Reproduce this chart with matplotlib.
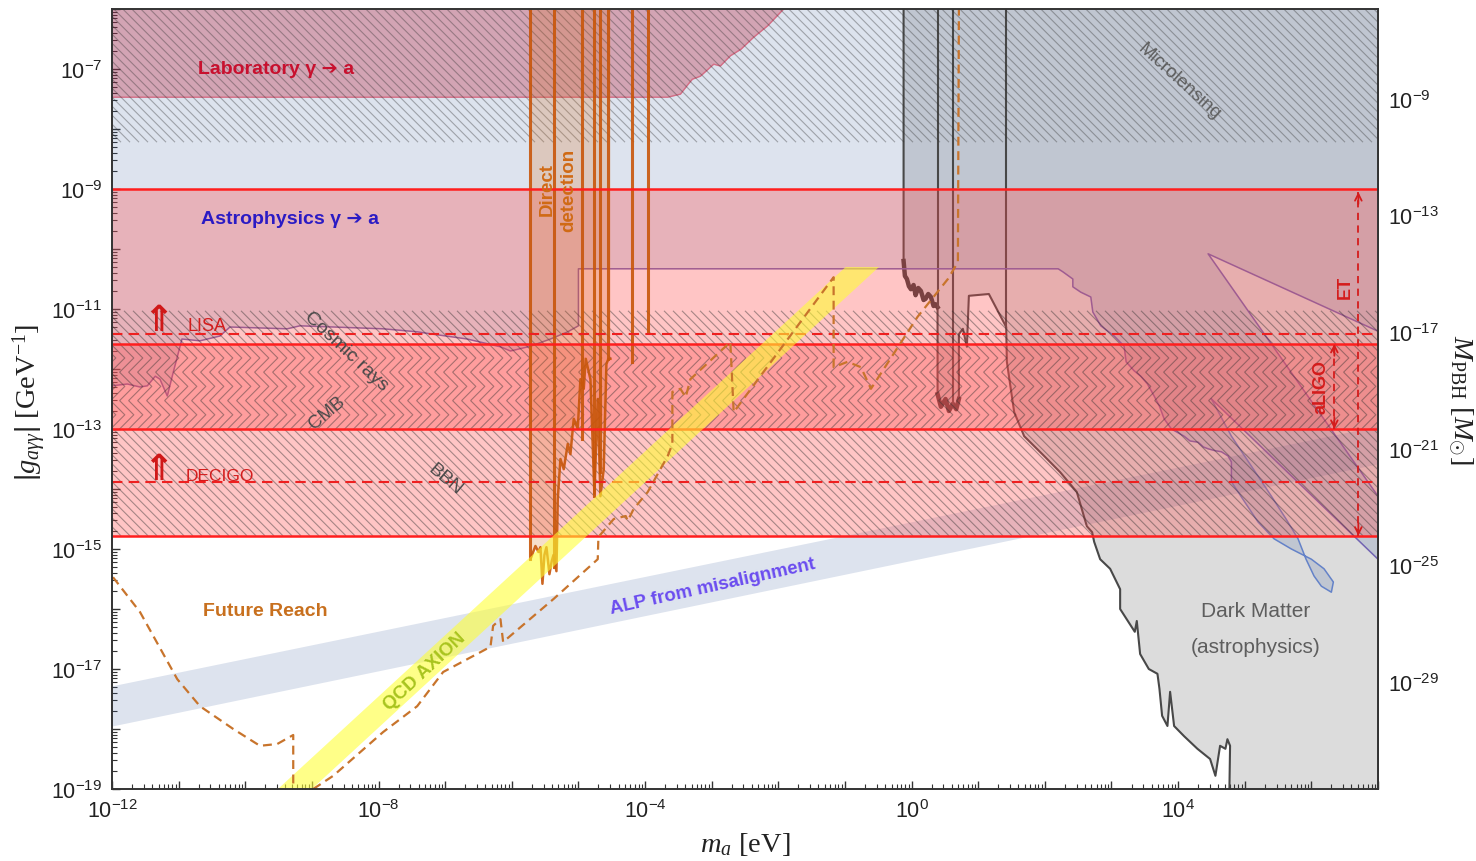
import numpy as np
import matplotlib
matplotlib.use("Agg")
import matplotlib.pyplot as plt
from matplotlib.collections import LineCollection
from matplotlib.ticker import LogLocator, FuncFormatter, FixedLocator, NullLocator

plt.rcParams["font.family"] = ["Liberation Sans", "DejaVu Sans"]
plt.rcParams["mathtext.fontset"] = "custom"
plt.rcParams["mathtext.rm"] = "Liberation Sans"
plt.rcParams["mathtext.it"] = "Liberation Serif:italic"
plt.rcParams["mathtext.sf"] = "Liberation Serif"
plt.rcParams["mathtext.bf"] = "Liberation Sans:bold"

# ---------------------------------------------------------------------------
# Data: everything in log10 units (m_a in eV, |g_a gamma gamma| in GeV^-1)
# ---------------------------------------------------------------------------
log_m_range = [-12.0, 7.0]
log_g_range = [-19.0, -6.0]

# PBH-induced bands and gravitational-wave reach (horizontal levels)
pbh_band = [-14.78, -9.0]
cmb_band = [-13.0, -11.58]
red_edges = [-9.0, -11.58, -13.0, -14.78]
lisa_level = -11.42
decigo_level = -13.88
microlensing_hatch = [-8.22, -6.0]
cosmic_ray_hatch = [-11.58, -11.03]
cmb_hatch = [-13.0, -11.58]
bbn_hatch = [-14.78, -13.0]
et_range = [-14.78, -9.05]
aligo_range = [-13.0, -11.58]
et_mass = 6.705
aligo_mass = 6.345

# astrophysical photon -> axion bounds (lower edge, left to right)
astro_m = [-12.0, -11.77, -11.58, -11.47, -11.35, -11.28, -11.17, -11.08, -10.95, -10.68,
           -10.38, -10.23, -9.37, -9.18, -8.68, -7.93, -7.42, -7.18, -6.67, -6.17,
           -6.02, -5.72, -5.42, -5.16, -5.0, -5.0, 2.20, 2.27, 2.42, 2.42,
           2.54, 2.69, 2.72, 2.84, 3.04, 3.19, 3.22, 3.34, 3.44, 3.54,
           3.64, 3.72, 3.79, 3.90, 3.98, 4.09, 4.18, 4.30, 4.38, 4.45,
           4.55, 4.65, 4.75, 4.80, 4.80]
astro_g = [-12.28, -12.25, -12.30, -12.28, -12.12, -12.17, -12.45, -12.05, -11.50, -11.53,
           -11.45, -11.30, -11.33, -11.28, -11.30, -11.33, -11.38, -11.42, -11.50, -11.63,
           -11.70, -11.62, -11.50, -11.38, -11.28, -10.33, -10.33, -10.38, -10.50, -10.63,
           -10.72, -10.80, -11.05, -11.28, -11.45, -11.62, -11.88, -12.03, -12.12, -12.25,
           -12.45, -12.62, -12.83, -13.0, -13.05, -13.12, -13.2, -13.22, -13.3, -13.33,
           -13.36, -13.38, -13.45, -13.55, -13.88]
# lobe at high mass (down the left side, back up the right side)
lobe_m = [4.80, 5.02, 5.20, 5.44, 5.70, 6.00, 6.19, 6.33, 6.30, 6.15, 6.04, 5.92, 5.80,
          5.62, 5.40, 5.10, 4.80, 4.50]
lobe_g = [-13.88, -14.25, -14.55, -14.83, -15.0, -15.17, -15.33, -15.55, -15.72, -15.62,
          -15.45, -15.17, -14.83, -14.5, -14.12, -13.62, -13.12, -12.5]
lobe_tail_end_g = -15.17          # straight edge from the lobe tip to m = 1e7
gap_tip = [4.45, -10.08]          # tip of the open wedge
gap_upper_end_g = -11.37
gap_lower_end_g = -14.12

# laboratory photon -> axion bound (lower edge)
lab_m = [-12.0, -3.66, -3.55, -3.47, -3.35, -3.29, -3.17, -3.05, -2.97, -2.87, -2.72,
         -2.56, -2.37, -2.16, -1.92]
lab_g = [-7.47, -7.47, -7.44, -7.42, -7.25, -7.17, -7.12, -7.0, -6.92, -6.95, -6.78,
         -6.67, -6.47, -6.28, -6.0]

# dark matter (astrophysics) region, left boundary from top to bottom
dm_m = [-0.12, -0.12, -0.10, -0.07, -0.04, -0.01, 0.03, 0.06, 0.10, 0.14, 0.18, 0.21,
        0.25, 0.29, 0.33, 0.36, 0.39, 0.39, 0.44, 0.51, 0.56, 0.62, 0.67, 0.71, 0.71,
        0.77, 0.83, 0.86, 1.16, 1.42, 1.43, 1.54, 1.69, 1.99, 2.23, 2.48, 2.63, 2.71,
        2.74, 2.83, 2.98, 3.13, 3.13, 3.35, 3.38, 3.43, 3.56, 3.69, 3.72, 3.76, 3.84,
        3.88, 3.94, 4.09, 4.29, 4.48, 4.56, 4.63, 4.71, 4.74, 4.78, 4.77]
dm_g = [-6.0, -10.2, -10.45, -10.5, -10.62, -10.67, -10.6, -10.77, -10.65, -10.7, -10.85,
        -10.83, -10.75, -10.8, -10.95, -10.92, -10.97, -12.42, -12.63, -12.5, -12.7, -12.58,
        -12.67, -12.5, -11.42, -11.33, -11.63, -10.78, -10.75, -11.3, -11.88, -12.72,
        -13.12, -13.45, -13.72, -14.05, -14.62, -14.72, -14.88, -15.17, -15.33, -15.67,
        -16.0, -16.38, -16.2, -16.75, -17.0, -17.08, -17.33, -17.78, -17.95, -17.38,
        -17.95, -18.12, -18.33, -18.5, -18.78, -18.28, -18.33, -18.17, -18.28, -19.0]
dm_inner_m = [0.39, 0.62, 1.42]
dm_inner_g = [-10.97, -12.58, -11.3]

# direct detection (haloscopes)
dd_m = [-5.72, -5.72, -5.645, -5.60, -5.57, -5.54, -5.51, -5.48, -5.435, -5.40, -5.374,
        -5.33, -5.31, -5.27, -5.22, -5.16, -5.12, -5.07, -5.01, -4.97, -4.92, -4.89,
        -4.82, -4.76, -4.71, -4.67, -4.62, -4.58, -4.55, -4.52, -4.52]
dd_g = [-6.0, -15.17, -14.95, -15.05, -14.97, -15.58, -15.1, -14.97, -15.42, -15.2, -15.1,
        -15.37, -14.17, -13.5, -13.67, -13.25, -13.42, -12.83, -13.0, -12.17, -12.33,
        -11.83, -12.17, -14.08, -12.5, -14.12, -13.67, -11.92, -11.83, -11.83, -6.0]
dd_spike_m = [-5.72, -5.374, -4.94, -4.76, -4.67, -4.55, -4.19, -3.96]
dd_spike_g = [-15.17, -15.3, -13.17, -14.12, -13.72, -11.83, -11.88, -11.37]

# future reach (dashed)
fr1_m = [-11.985, -11.58, -11.02, -10.68, -10.18, -9.78, -9.52, -9.28, -9.28]
fr1_g = [-15.47, -16.05, -17.17, -17.62, -18.0, -18.28, -18.25, -18.1, -19.0]
fr2_m = [-8.98, -8.68, -7.93, -7.42, -7.03, -6.32, -6.28, -6.17, -6.13, -5.37, -4.71,
         -4.70, -4.47, -4.29, -4.26, -4.17, -3.96, -3.66, -3.59, -3.59, -3.47, -3.39,
         -3.32, -2.72, -2.67, -1.17, -1.17, -0.96, -0.76, -0.61, 0.09, 0.545, 0.695, 0.71]
fr2_g = [-19.0, -18.78, -18.05, -17.62, -17.05, -16.63, -16.28, -16.17, -16.55, -15.83,
         -15.17, -14.8, -14.5, -14.45, -14.53, -14.33, -14.05, -13.45, -13.25, -12.38,
         -12.33, -12.47, -12.17, -11.55, -12.72, -10.47, -11.97, -11.88, -11.97, -12.33,
         -11.13, -10.5, -10.22, -6.0]

# QCD axion band and ALP misalignment band
qcd_m = [-9.51, -9.0, -0.49, -0.99]
qcd_g = [-19.0, -19.0, -10.3, -10.3]
alp_m = [-12.0, 7.0]
alp_g_low = [-17.95, -13.58]
alp_g_high = [-17.28, -12.95]

# M_PBH <-> g mapping: log10 M = slope * log10 g + offset
pbh_slope = 2.058
pbh_offset = 6.43
pbh_ticks = [-9, -13, -17, -21, -25, -29]


def ev(a):
    return np.power(10.0, np.asarray(a, dtype=float))


# ---------------------------------------------------------------------------
W_PX, H_PX = 1266.0, 780.0
fig = plt.figure(figsize=(14.76, 8.62), dpi=100)
ax = fig.add_axes([112 / 1476, 72 / 862, W_PX / 1476, H_PX / 862])
ax.set_xscale("log")
ax.set_yscale("log")
ax.set_xlim(ev(log_m_range[0]), ev(log_m_range[1]))
ax.set_ylim(ev(log_g_range[0]), ev(log_g_range[1]))

XL = ev(log_m_range)
BLUE = (0.216, 0.353, 0.608)
RED = (1.0, 0.3, 0.3)


def gfrac(g):
    return (g - log_g_range[0]) / (log_g_range[1] - log_g_range[0])


def hatch_diag(lo, hi, step=9.0, alpha=0.42):
    y0, y1 = gfrac(lo) * H_PX, gfrac(hi) * H_PX
    dy = y1 - y0
    segs = [[(c / W_PX, y1 / H_PX), ((c + dy) / W_PX, y0 / H_PX)]
            for c in np.arange(-dy, W_PX + step, step)]
    lc = LineCollection(segs, transform=ax.transAxes, colors="#2e2e2e",
                        linewidths=0.8, alpha=alpha, zorder=5)
    ax.add_collection(lc, autolim=False)


def hatch_chevron(lo, hi, rows=3, step=9.0, alpha=0.42):
    y0, y1 = gfrac(lo) * H_PX, gfrac(hi) * H_PX
    h = (y1 - y0) / rows
    segs = []
    for r in range(rows):
        top = y1 - r * h
        for c in np.arange(-h, W_PX + step, step):
            segs.append([(c / W_PX, top / H_PX), ((c + h / 2) / W_PX, (top - h / 2) / H_PX),
                         (c / W_PX, (top - h) / H_PX)])
    lc = LineCollection(segs, transform=ax.transAxes, colors="#2e2e2e",
                        linewidths=0.8, alpha=alpha, zorder=5)
    ax.add_collection(lc, autolim=False)


# dark matter region
dm_poly_m = dm_m + [log_m_range[1], log_m_range[1]]
dm_poly_g = dm_g + [log_g_range[0], log_g_range[1]]
ax.fill(ev(dm_poly_m), ev(dm_poly_g), color="#dcdcdc", lw=0, zorder=1)
ax.plot(ev(dm_m), ev(dm_g), color="#484848", lw=1.5, zorder=3.8)
ax.plot(ev(dm_m[1:17]), ev(dm_g[1:17]), color="#3c3c3c", lw=3.2, zorder=3.8)
ax.plot(ev(dm_m[17:24]), ev(dm_g[17:24]), color="#3c3c3c", lw=3.2, zorder=3.8)
for m, g in zip(dm_inner_m, dm_inner_g):
    ax.plot(ev([m, m]), ev([log_g_range[1], g]), color="#484848", lw=1.5, zorder=3.8)

# astrophysics region
poly_m = astro_m + lobe_m[1:] + [log_m_range[1], log_m_range[1], gap_tip[0],
                                 log_m_range[1], log_m_range[1], log_m_range[0]]
poly_g = astro_g + lobe_g[1:] + [lobe_tail_end_g, gap_lower_end_g, gap_tip[1],
                                 gap_upper_end_g, log_g_range[1], log_g_range[1]]
ax.fill(ev(poly_m), ev(poly_g), color=BLUE, alpha=0.17, lw=0, zorder=2)
ax.plot(ev(astro_m), ev(astro_g), color="#7264b2", lw=1.1, zorder=3.9)
ax.plot(ev(lobe_m), ev(lobe_g), color="#6482c8", lw=1.1, zorder=3.9)
ax.plot(ev([lobe_m[-1], log_m_range[1]]), ev([lobe_g[-1], lobe_tail_end_g]),
        color="#7264b2", lw=1.1, zorder=3.9)
ax.plot(ev([log_m_range[1], gap_tip[0], log_m_range[1]]),
        ev([gap_upper_end_g, gap_tip[1], gap_lower_end_g]),
        color="#7264b2", lw=1.1, zorder=3.9)

# laboratory region
ax.fill_between(ev(lab_m), ev(lab_g), ev(log_g_range[1]), color=(0.75, 0.08, 0.19),
                alpha=0.3, lw=0, zorder=3)
ax.plot(ev(lab_m), ev(lab_g), color="#d4607a", lw=1.0, alpha=0.8, zorder=3)

# ALP misalignment band
ax.fill_between(ev(alp_m), ev(alp_g_low), ev(alp_g_high), color=BLUE, alpha=0.17,
                lw=0, zorder=3.5)

# PBH bands
ax.fill_between(XL, ev(pbh_band[0]), ev(pbh_band[1]), color=RED, alpha=0.32, lw=0, zorder=4)
ax.fill_between(XL, ev(cmb_band[0]), ev(cmb_band[1]), color=RED, alpha=0.33, lw=0, zorder=4)

hatch_diag(*microlensing_hatch, alpha=0.36)
hatch_diag(*cosmic_ray_hatch)
hatch_chevron(*cmb_hatch)
hatch_diag(*bbn_hatch)

for lvl in red_edges:
    ax.axhline(ev(lvl), color="#ff1e1e", lw=1.8, zorder=6)
for lvl in (lisa_level, decigo_level):
    ax.axhline(ev(lvl), color="#ee2020", lw=1.5, ls=(0, (5, 3)), zorder=6)

# direct detection
ax.fill(ev(dd_m), ev(dd_g), color=(0.85, 0.42, 0.08), alpha=0.22, lw=0, zorder=5.5)
ax.plot(ev(dd_m[1:-1]), ev(dd_g[1:-1]), color="#c8560a", lw=1.8, alpha=0.9, zorder=5.6)
for m, g in zip(dd_spike_m, dd_spike_g):
    ax.plot(ev([m, m]), ev([log_g_range[1], g]), color="#c8560a", lw=2.2, alpha=0.9,
            zorder=5.6)

# QCD axion band
ax.fill(ev(qcd_m), ev(qcd_g), color="#ffff33", alpha=0.58, lw=0, zorder=6)

# future reach
for fm, fg in ((fr1_m, fr1_g), (fr2_m, fr2_g)):
    ax.plot(ev(fm), ev(fg), color="#c8742c", lw=1.6, ls=(0, (4, 2.5)), zorder=7)

# GW detector ranges
RED_T = "#d41c1c"
for mm, (lo, hi) in ((et_mass, et_range), (aligo_mass, aligo_range)):
    ax.plot(ev([mm, mm]), ev([lo, hi]), color=RED_T, lw=1.3, ls=(0, (4, 3)), zorder=7)
    for end, inner in ((hi, hi - 0.2), (lo, lo + 0.2)):
        ax.annotate("", xy=(ev(mm), ev(end)), xytext=(ev(mm), ev(inner)),
                    arrowprops=dict(arrowstyle="->", color=RED_T, lw=1.3,
                                    shrinkA=0, shrinkB=0, mutation_scale=12),
                    zorder=7)

# ---------------------------------------------------------------------------
# Labels
def label(m, g, s, **kw):
    kw.setdefault("ha", "center")
    kw.setdefault("va", "center")
    kw.setdefault("zorder", 10)
    ax.text(ev(m), ev(g), s, **kw)


label(-9.54, -7.0, "Laboratory γ ➔ a", color="#c8102e", fontsize=14, fontweight="bold")
label(-9.33, -9.5, "Astrophysics γ ➔ a", color="#2b1bc4", fontsize=14, fontweight="bold")
label(-9.70, -16.02, "Future Reach", color="#c8701e", fontsize=14, fontweight="bold")
label(5.17, -16.03, "Dark Matter", color="#5e5e5e", fontsize=15)
label(5.17, -16.63, "(astrophysics)", color="#5e5e5e", fontsize=15)
label(4.02, -7.2, "Microlensing", color="#5e5e5e", fontsize=13.5, rotation=-42)
label(-8.48, -11.7, "Cosmic rays", color="#4a4a4a", fontsize=14, rotation=-43)
label(-8.77, -12.72, "CMB", color="#4a4a4a", fontsize=13.5, rotation=40)
label(-7.0, -13.83, "BBN", color="#4a4a4a", fontsize=13.5, rotation=-40)
label(-5.30, -9.0, "Direct\ndetection", color="#d06a14", fontsize=13.5,
      fontweight="bold", rotation=90, multialignment="center", linespacing=1.35)
label(-7.30, -17.03, "QCD AXION", color="#a9c41f", fontsize=13.5, fontweight="bold",
      rotation=43)
label(-2.99, -15.62, "ALP from misalignment", color="#6b4cf0", fontsize=13.5,
      fontweight="bold", rotation=12.5)
label(6.51, -10.62, "ET", color=RED_T, fontsize=13, fontweight="bold", rotation=90)
label(6.15, -12.28, "aLIGO", color=RED_T, fontsize=13, fontweight="bold", rotation=90)
label(-11.31, -11.2, "⇑", color="#d01818", fontsize=26, fontweight="bold")
label(-11.31, -13.67, "⇑", color="#d01818", fontsize=26, fontweight="bold")
label(-10.87, -11.27, "LISA", color=RED_T, fontsize=13, ha="left")
label(-10.90, -13.78, "DECIGO", color=RED_T, fontsize=12.5, ha="left")

# ---------------------------------------------------------------------------
# Axes styling
def fmt_every(n):
    def f(v, pos):
        e = int(round(np.log10(v)))
        return r"$\mathdefault{10^{%d}}$" % e if e % n == (n - 1 if n == 2 else 0) else ""
    return FuncFormatter(f)


ax.xaxis.set_major_locator(LogLocator(base=10, numticks=60))
ax.xaxis.set_minor_locator(LogLocator(base=10, subs=np.arange(2, 10), numticks=200))
ax.yaxis.set_major_locator(LogLocator(base=10, numticks=60))
ax.yaxis.set_minor_locator(LogLocator(base=10, subs=np.arange(2, 10), numticks=200))
ax.xaxis.set_major_formatter(fmt_every(4))
ax.yaxis.set_major_formatter(fmt_every(2))
ax.xaxis.set_minor_formatter(FuncFormatter(lambda v, p: ""))
ax.yaxis.set_minor_formatter(FuncFormatter(lambda v, p: ""))
ax.tick_params(which="both", direction="in", top=False, right=False, labelsize=15.5,
               labelcolor="#222222", color="#333333")
ax.tick_params(which="major", length=6, width=1.0, pad=7)
ax.tick_params(which="minor", length=3.5, width=0.8)
for sp in ax.spines.values():
    sp.set_color("#333333")
    sp.set_linewidth(1.4)
    sp.set_zorder(12)


def g_to_mpbh(g):
    g = np.asarray(g, dtype=float)
    with np.errstate(divide="ignore", invalid="ignore"):
        return np.power(10.0, pbh_offset) * np.power(np.abs(g), pbh_slope)


def mpbh_to_g(M):
    M = np.asarray(M, dtype=float)
    with np.errstate(divide="ignore", invalid="ignore"):
        return np.power(np.abs(M) / np.power(10.0, pbh_offset), 1.0 / pbh_slope)


sec = ax.secondary_yaxis("right", functions=(g_to_mpbh, mpbh_to_g))
sec.yaxis.set_major_locator(FixedLocator(ev(pbh_ticks)))
sec.yaxis.set_minor_locator(NullLocator())
sec.yaxis.set_major_formatter(FuncFormatter(
    lambda v, p: r"$\mathdefault{10^{%d}}$" % int(round(np.log10(v)))))
sec.tick_params(direction="in", length=6, width=1.0, labelsize=15.5, pad=7,
                labelcolor="#222222", color="#333333")
sec.spines["right"].set_color("#333333")
sec.spines["right"].set_linewidth(1.4)

fig.text(745 / 1476, 1 - 845 / 862, r"$m_a$ [eV]", family="Liberation Serif",
         fontsize=20.5, ha="center", va="center", color="#222222")
fig.text(30 / 1476, 1 - 402 / 862, r"$|g_{a\gamma\gamma}|$ [GeV$^{\mathsf{-1}}$]",
         family="Liberation Serif", fontsize=20.5, ha="center", va="center",
         rotation=90, color="#222222")
fig.text(1460 / 1476, 1 - 400 / 862, r"$M_{\mathsf{PBH}}$ [$M_{\odot}$]",
         family="Liberation Serif", fontsize=20.5, ha="center", va="center",
         rotation=270, color="#222222")

fig.savefig("out.png", dpi=100)
